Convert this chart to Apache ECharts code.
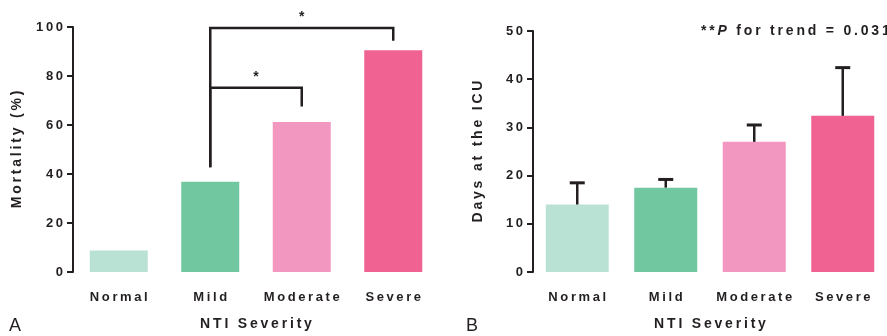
<!DOCTYPE html>
<html>
<head>
<meta charset="utf-8">
<script src="https://cdn.jsdelivr.net/npm/echarts@6/dist/echarts.min.js"></script>
<style>
  html, body { margin: 0; padding: 0; background: #fff; }
  #chart { width: 887px; height: 336px; }
</style>
</head>
<body>
<div id="chart"></div>
<script>
// categories and values
const categories = ['Normal', 'Mild', 'Moderate', 'Severe']
const mortality = [8.8, 36.8, 61.2, 90.5]
const icuDays = [14.0, 17.5, 27.0, 32.4]
const icuUpper = [18.5, 19.2, 30.5, 42.4]

// significance brackets on panel A
const bracketFrom = ['Mild', 'Mild']
const bracketTo = ['Severe', 'Moderate']
const bracketTop = [99.6, 75.2]
const bracketEnd = [94.4, 67.6]
const bracketStart = [42.8, 42.8]
const bracketMark = ['*', '*']

const trendNote = 'P for trend = 0.031'

const ink = '#231f20'
const font = "'Liberation Sans', Arial, sans-serif"
const barColors = ['#bae2d4', '#71c7a0', '#f297bf', '#f06292']

// the original uses wide letter spacing, thin spaces fake it
const sp = '\u2009'
const spaced = s => s.split('').join(sp)

function yAxis(gridIndex, name, max, interval, gap) {
  return {
    type: 'value',
    gridIndex,
    min: 0,
    max,
    interval,
    name: spaced(name),
    nameLocation: 'middle',
    nameGap: gap,
    nameTextStyle: { color: ink, fontSize: 14, fontWeight: 'bold', fontFamily: font },
    axisLine: { show: true, lineStyle: { color: ink, width: 2 } },
    axisTick: { show: true, length: 6, lineStyle: { color: ink, width: 2 } },
    splitLine: { show: false },
    axisLabel: {
      margin: 10,
      color: ink,
      fontSize: 13,
      fontWeight: 'bold',
      fontFamily: font,
      formatter: v => spaced(String(v))
    }
  }
}

function xAxis(gridIndex) {
  return {
    type: 'category',
    gridIndex,
    data: categories,
    name: spaced('NTI Severity'),
    nameLocation: 'middle',
    nameGap: 45,
    nameTextStyle: { color: ink, fontSize: 14, fontWeight: 'bold', fontFamily: font },
    axisLine: { show: false },
    axisTick: { show: false },
    axisLabel: {
      interval: 0,
      margin: 19,
      color: ink,
      fontSize: 13,
      fontWeight: 'bold',
      fontFamily: font,
      formatter: v => spaced(v)
    }
  }
}

const bracketData = bracketFrom.map((f, i) => [
  categories.indexOf(f),
  categories.indexOf(bracketTo[i]),
  bracketTop[i],
  bracketEnd[i],
  bracketStart[i]
])

const errorData = categories.map((c, i) => [i, icuDays[i], icuUpper[i]])

const lineStyle = { stroke: ink, lineWidth: 2.5 }

const option = {
  animation: false,
  grid: [
    { left: 73, right: 448, top: 27, bottom: 63 },
    { left: 533, right: -12, top: 31, bottom: 62 }
  ],
  title: {
    left: 696,
    top: 19,
    text: '{s|' + spaced('**') + sp + '}{p|P}{s|' + sp + spaced(trendNote.slice(1)) + '}',
    textStyle: {
      rich: {
        s: { color: ink, fontSize: 14, fontWeight: 'bold', fontFamily: font },
        p: { color: ink, fontSize: 14, fontWeight: 'bold', fontStyle: 'italic', fontFamily: font }
      }
    }
  },
  graphic: [
    { type: 'text', left: 9, top: 317, style: { text: 'A', fill: ink, font: '18px ' + font } },
    { type: 'text', left: 466, top: 317, style: { text: 'B', fill: ink, font: '18px ' + font } }
  ],
  xAxis: [xAxis(0), xAxis(1)],
  yAxis: [
    yAxis(0, 'Mortality (%)', 100, 20, 49),
    yAxis(1, 'Days at the ICU', 50, 10, 48)
  ],
  series: [
    {
      type: 'bar',
      xAxisIndex: 0,
      yAxisIndex: 0,
      barWidth: 58,
      data: mortality.map((v, i) => ({ value: v, itemStyle: { color: barColors[i] } }))
    },
    {
      type: 'custom',
      xAxisIndex: 0,
      yAxisIndex: 0,
      encode: { x: [0, 1], y: [2, 3, 4] },
      data: bracketData,
      z: 5,
      renderItem(params, api) {
        const left = api.coord([api.value(0), api.value(2)])
        const right = api.coord([api.value(1), api.value(2)])
        const end = api.coord([api.value(1), api.value(3)])
        const start = api.coord([api.value(0), api.value(4)])
        return {
          type: 'group',
          children: [
            {
              type: 'polyline',
              shape: { points: [start, left, right, end] },
              style: Object.assign({ fill: null }, lineStyle)
            },
            {
              type: 'text',
              style: {
                text: bracketMark[params.dataIndex],
                x: (left[0] + right[0]) / 2,
                y: left[1] - 4,
                align: 'center',
                verticalAlign: 'bottom',
                fill: ink,
                font: 'bold 14px ' + font
              }
            }
          ]
        }
      }
    },
    {
      type: 'bar',
      xAxisIndex: 1,
      yAxisIndex: 1,
      barWidth: 63,
      data: icuDays.map((v, i) => ({ value: v, itemStyle: { color: barColors[i] } }))
    },
    {
      type: 'custom',
      xAxisIndex: 1,
      yAxisIndex: 1,
      encode: { x: 0, y: [1, 2] },
      data: errorData,
      z: 5,
      renderItem(params, api) {
        const base = api.coord([api.value(0), api.value(1)])
        const top = api.coord([api.value(0), api.value(2)])
        return {
          type: 'group',
          children: [
            { type: 'line', shape: { x1: base[0], y1: base[1], x2: top[0], y2: top[1] }, style: lineStyle },
            { type: 'line', shape: { x1: top[0] - 7.5, y1: top[1], x2: top[0] + 7.5, y2: top[1] }, style: { stroke: ink, lineWidth: 3 } }
          ]
        }
      }
    }
  ]
}

const chart = echarts.init(document.getElementById('chart'))
chart.setOption(option)
</script>
</body>
</html>
